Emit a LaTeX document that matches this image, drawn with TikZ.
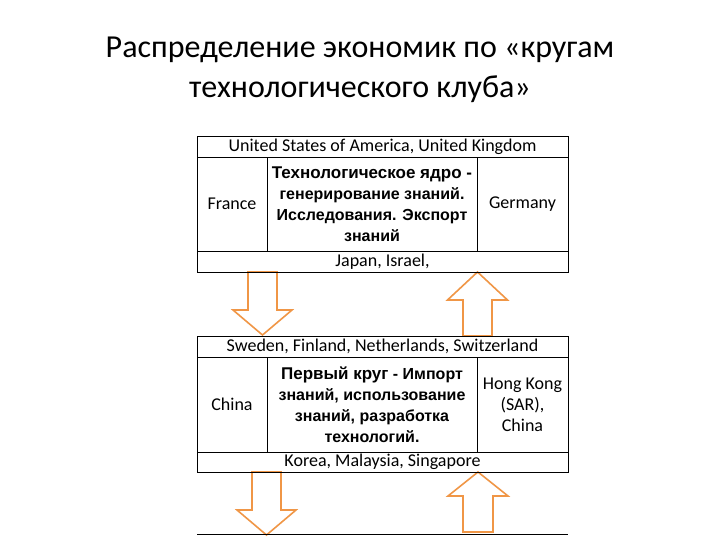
\documentclass[tikz,border=0pt]{standalone}
\usepackage{fontspec}
\setmainfont{Carlito}
\newfontfamily\hd{Liberation Sans}
\definecolor{arr}{RGB}{240,150,70}
\newcommand\lead[1]{{\fontsize{17}{22}\selectfont #1}}
\tikzset{cell/.style={draw,line width=.8pt,inner sep=0pt,outer sep=0pt,font=\fontsize{18}{21}\selectfont,align=center},
txt/.style={font=\hd\bfseries\fontsize{16}{21}\selectfont},
blk/.style={draw=arr,line width=1.6pt,fill=white,line join=miter}}
\begin{document}
\begin{tikzpicture}[x=1pt,y=-1pt]
\useasboundingbox[fill=white](0,0)rectangle(720,540);
\node[font=\fontsize{32}{40}\selectfont,align=center](ttl)at(360,70){Распределение экономик по «кругам\\технологического клуба»};
% arrows between tables
\draw[blk](248,272)--(248,310)--(233,310)--(262.5,335)--(292,310)--(277,310)--(277,272)--cycle;
\draw[blk](477.5,272)--(507.5,300)--(492,300)--(492,336)--(463,336)--(463,300)--(447.5,300)--cycle;
\draw[blk](252,472)--(252,510)--(237,510)--(266.5,535)--(296,510)--(281,510)--(281,472)--cycle;
\draw[blk](478,472)--(508,496)--(493,496)--(493,532)--(463,532)--(463,496)--(448,496)--cycle;
% core table
\node[cell,minimum width=371,minimum height=21](usa)at(382.5,146.5){United States of America, United Kingdom};
\node[cell,minimum width=70,minimum height=94](fr)at(232,204){France};
\node[cell,txt,minimum width=210,minimum height=94](core)at(372,204){\lead{Технологическое ядро -}\\генерирование знаний.\\Исследования. Экспорт\\знаний};
\node[cell,minimum width=91,minimum height=94](de)at(522.5,204){Germany};
\node[cell,minimum width=371,minimum height=21](jp)at(382.5,261.5){Japan, Israel,};
% first circle table
\node[cell,minimum width=371,minimum height=21](swe)at(382.5,346.5){Sweden, Finland, Netherlands, Switzerland};
\node[cell,minimum width=70,minimum height=95](cn)at(232,404.5){China};
\node[cell,txt,minimum width=210,minimum height=95](first)at(372,404.5){\lead{Первый круг} - Импорт\\знаний, использование\\знаний, разработка\\технологий.};
\node[cell,minimum width=91,minimum height=95](hk)at(522.5,404.5){Hong Kong\\(SAR),\\China};
\node[cell,minimum width=371,minimum height=20](kr)at(382.5,462){Korea, Malaysia, Singapore};
\draw[line width=.8pt](197,534)--(568,534);
\end{tikzpicture}
\end{document}
